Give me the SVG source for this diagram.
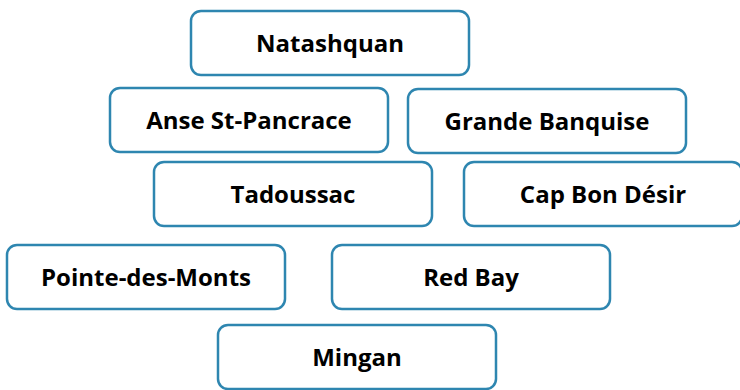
<svg xmlns="http://www.w3.org/2000/svg" width="740" height="390" viewBox="0 0 740 390">
<style>
.box{fill:#ffffff;stroke:#2e86b0;stroke-width:2.5}
.lbl{font-family:"Open Sans","Noto Sans",sans-serif;font-weight:bold;font-size:24px;fill:#000;text-anchor:middle;dominant-baseline:central}
</style>
<rect width="740" height="390" fill="#ffffff"/>
<g id="connectors"></g>
<g id="natashquan"><rect class="box" x="191" y="11" width="278" height="64" rx="10"/><text class="lbl" x="330" y="42">Natashquan</text></g>
<g id="anse"><rect class="box" x="110" y="88" width="278" height="64" rx="10"/><text class="lbl" x="249" y="119">Anse St-Pancrace</text></g>
<g id="grande"><rect class="box" x="408" y="89" width="278" height="64" rx="10"/><text class="lbl" x="547" y="120">Grande Banquise</text></g>
<g id="tadoussac"><rect class="box" x="154" y="162" width="278" height="64" rx="10"/><text class="lbl" x="293" y="193">Tadoussac</text></g>
<g id="capbon"><rect class="box" x="464" y="162" width="278" height="64" rx="10"/><text class="lbl" x="603" y="193">Cap Bon Désir</text></g>
<g id="pointe"><rect class="box" x="7" y="245" width="278" height="64" rx="10"/><text class="lbl" x="146" y="276">Pointe-des-Monts</text></g>
<g id="redbay"><rect class="box" x="332" y="245" width="278" height="64" rx="10"/><text class="lbl" x="471" y="276">Red Bay</text></g>
<g id="mingan"><rect class="box" x="218" y="325" width="278" height="64" rx="10"/><text class="lbl" x="357" y="356">Mingan</text></g>
</svg>
